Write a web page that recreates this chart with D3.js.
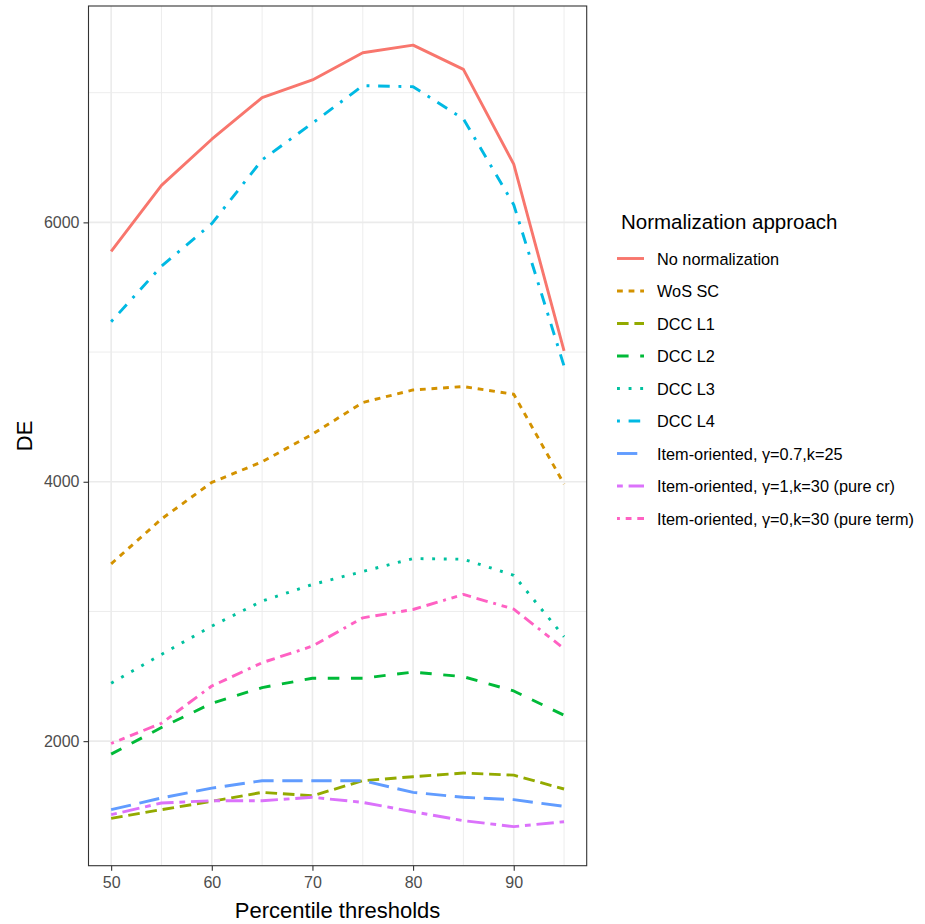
<!DOCTYPE html>
<html>
<head>
<meta charset="utf-8">
<script src="https://cdn.jsdelivr.net/npm/d3@7"></script>
<style>
  body { margin: 0; background: #fff; }
  text { font-family: "Liberation Sans", Arial, sans-serif; }
</style>
</head>
<body>
<div id="chart"></div>
<script>
// DATA
const thresholds = [50, 55, 60, 65, 70, 75, 80, 85, 90, 95]

const seriesNames = [
    "No normalization",
    "WoS SC",
    "DCC L1",
    "DCC L2",
    "DCC L3",
    "DCC L4",
    "Item-oriented, γ=0.7,k=25",
    "Item-oriented, γ=1,k=30 (pure cr)",
    "Item-oriented, γ=0,k=30 (pure term)"
]

const noNormalization = [5777, 6285, 6641, 6962, 7098, 7308, 7367, 7180, 6449, 5010]
const wosSC           = [3367, 3713, 3995, 4154, 4367, 4611, 4708, 4734, 4675, 3982]
const dccL1           = [1405, 1472, 1536, 1605, 1579, 1695, 1726, 1754, 1738, 1631]
const dccL2           = [1900, 2105, 2292, 2413, 2485, 2485, 2533, 2497, 2387, 2200]
const dccL3           = [2446, 2669, 2887, 3080, 3208, 3308, 3408, 3403, 3279, 2805]
const dccL4           = [5234, 5662, 5990, 6482, 6765, 7054, 7046, 6798, 6136, 4892]
const itemG07         = [1472, 1562, 1638, 1695, 1695, 1695, 1605, 1567, 1549, 1497]
const itemG1          = [1433, 1523, 1541, 1541, 1567, 1528, 1456, 1387, 1341, 1379]
const itemG0          = [1982, 2138, 2425, 2605, 2733, 2951, 3015, 3131, 3018, 2713]

const seriesValues = [noNormalization, wosSC, dccL1, dccL2, dccL3, dccL4, itemG07, itemG1, itemG0]

const xTicks = [50, 60, 70, 80, 90]
const yTicks = [2000, 4000, 6000]

// ggplot default hue palette and linetypes
const colors = ["#F8766D", "#D39200", "#93AA00", "#00BA38", "#00C19F", "#00B9E3", "#619CFF", "#DB72FB", "#FF61C3"]
const linetypes = ["", "22", "42", "44", "13", "1343", "73", "2262", "12223242"]

const series = seriesNames.map((name, i) => ({
    name,
    color: colors[i],
    lty: linetypes[i],
    values: thresholds.map((t, j) => ({ x: t, y: seriesValues[i][j] }))
}))

// DIMENSIONS
const width = 925, height = 924
const panel = { left: 88.5, right: 586.7, top: 6, bottom: 865.7 }
const lineWidth = 2.9

const dashArray = lty => lty === "" ? null :
    lty.split("").map(c => parseInt(c, 16) * lineWidth).join(",")

// CANVAS
const svg = d3.select("#chart").append("svg")
    .attr("width", width)
    .attr("height", height)

// SCALES (ggplot-style 5% expansion)
const xMin = d3.min(thresholds), xMax = d3.max(thresholds)
const xPad = (xMax - xMin) * 0.05
const xScale = d3.scaleLinear()
    .domain([xMin - xPad, xMax + xPad])
    .range([panel.left, panel.right])

const allY = seriesValues.flat()
const yMin = d3.min(allY), yMax = d3.max(allY)
const yPad = (yMax - yMin) * 0.05
const yScale = d3.scaleLinear()
    .domain([yMin - yPad, yMax + yPad])
    .range([panel.bottom, panel.top])

// GRID
const grid = svg.append("g")
const xMinor = [55, 65, 75, 85, 95]
const yMinor = [3000, 5000, 7000]

grid.selectAll(".xminor").data(xMinor).join("line")
    .attr("class", "xminor")
    .attr("x1", d => xScale(d)).attr("x2", d => xScale(d))
    .attr("y1", panel.top).attr("y2", panel.bottom)
    .attr("stroke", "#EBEBEB").attr("stroke-width", 0.9)
grid.selectAll(".yminor").data(yMinor).join("line")
    .attr("class", "yminor")
    .attr("x1", panel.left).attr("x2", panel.right)
    .attr("y1", d => yScale(d)).attr("y2", d => yScale(d))
    .attr("stroke", "#EBEBEB").attr("stroke-width", 0.9)
grid.selectAll(".xmajor").data(xTicks).join("line")
    .attr("class", "xmajor")
    .attr("x1", d => xScale(d)).attr("x2", d => xScale(d))
    .attr("y1", panel.top).attr("y2", panel.bottom)
    .attr("stroke", "#EBEBEB").attr("stroke-width", 1.6)
grid.selectAll(".ymajor").data(yTicks).join("line")
    .attr("class", "ymajor")
    .attr("x1", panel.left).attr("x2", panel.right)
    .attr("y1", d => yScale(d)).attr("y2", d => yScale(d))
    .attr("stroke", "#EBEBEB").attr("stroke-width", 1.6)

// LINES
const lineGen = d3.line()
    .x(d => xScale(d.x))
    .y(d => yScale(d.y))

svg.append("clipPath").attr("id", "panel-clip")
    .append("rect")
    .attr("x", panel.left).attr("y", panel.top)
    .attr("width", panel.right - panel.left)
    .attr("height", panel.bottom - panel.top)

svg.append("g")
    .attr("clip-path", "url(#panel-clip)")
    .selectAll("path")
    .data(series).join("path")
    .attr("d", d => lineGen(d.values))
    .attr("fill", "none")
    .attr("stroke", d => d.color)
    .attr("stroke-width", lineWidth)
    .attr("stroke-dasharray", d => dashArray(d.lty))
    .attr("stroke-linejoin", "round")

// PANEL BORDER
svg.append("rect")
    .attr("x", panel.left).attr("y", panel.top)
    .attr("width", panel.right - panel.left)
    .attr("height", panel.bottom - panel.top)
    .attr("fill", "none")
    .attr("stroke", "#333333")
    .attr("stroke-width", 1.1)

// AXES
const xAxis = svg.append("g")
    .attr("transform", `translate(0,${panel.bottom})`)
    .call(d3.axisBottom(xScale).tickValues(xTicks).tickFormat(d3.format("d")).tickSize(5).tickPadding(6))
xAxis.select(".domain").remove()
xAxis.selectAll(".tick line").attr("stroke", "#333333").attr("stroke-width", 1.1)
xAxis.selectAll(".tick text")
    .attr("fill", "#4D4D4D")
    .style("font-size", "16px")

const yAxis = svg.append("g")
    .attr("transform", `translate(${panel.left},0)`)
    .call(d3.axisLeft(yScale).tickValues(yTicks).tickFormat(d3.format("d")).tickSize(5).tickPadding(4))
yAxis.select(".domain").remove()
yAxis.selectAll(".tick line").attr("stroke", "#333333").attr("stroke-width", 1.1)
yAxis.selectAll(".tick text")
    .attr("fill", "#4D4D4D")
    .style("font-size", "16px")

// AXIS TITLES
svg.append("text")
    .attr("x", (panel.left + panel.right) / 2)
    .attr("y", 918)
    .attr("text-anchor", "middle")
    .style("font-size", "22px")
    .attr("fill", "black")
    .text("Percentile thresholds")

svg.append("text")
    .attr("transform", `translate(32,${(panel.top + panel.bottom) / 2}) rotate(-90)`)
    .attr("text-anchor", "middle")
    .style("font-size", "22px")
    .attr("fill", "black")
    .text("DE")

// LEGEND
const legend = svg.append("g")
    .attr("transform", "translate(617,0)")

legend.append("text")
    .attr("x", 4)
    .attr("y", 229)
    .style("font-size", "20.5px")
    .attr("fill", "black")
    .text("Normalization approach")

const legendItems = legend.selectAll(".item")
    .data(series).join("g")
    .attr("class", "item")
    .attr("transform", (d, i) => `translate(0,${258.5 + i * 32.5})`)

legendItems.append("line")
    .attr("x1", 0).attr("x2", 27)
    .attr("y1", 0).attr("y2", 0)
    .attr("stroke", d => d.color)
    .attr("stroke-width", lineWidth)
    .attr("stroke-dasharray", d => dashArray(d.lty))

legendItems.append("text")
    .attr("x", 40)
    .attr("y", 6)
    .style("font-size", "16.3px")
    .attr("fill", "black")
    .text(d => d.name)
</script>
</body>
</html>
